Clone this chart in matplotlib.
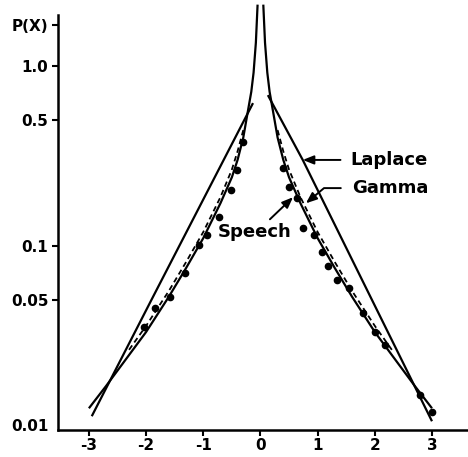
import numpy as np
import matplotlib
matplotlib.use('Agg')
from matplotlib import pyplot as plt

# values (x in units of sigma, p on a log axis)
laplace_left_x = [-2.95, -1.89, -0.13]
laplace_left_p = [0.0112, 0.051, 0.622]
laplace_right_x = [0.13, 0.74, 3.0]
laplace_right_p = [0.689, 0.30, 0.0105]

# gamma density, same on both sides of zero
gamma_x = [0.05, 0.08, 0.12, 0.16, 0.22, 0.3, 0.4, 0.5, 0.7, 1.0, 1.3, 1.6, 2.0, 2.4, 2.7, 3.0]
gamma_p = [2.2, 1.35, 0.92, 0.72, 0.56, 0.40, 0.30, 0.24, 0.172, 0.11, 0.075, 0.052, 0.033, 0.0222, 0.0165, 0.0124]

# measured speech curve (dashed, runs just inside the gamma curve)
speech_x = [0.3, 0.4, 0.5, 0.7, 1.0, 1.3, 1.6, 2.0, 2.3]
speech_p = [0.44, 0.335, 0.265, 0.186, 0.119, 0.081, 0.056, 0.0357, 0.0262]

# measured speech points
dots_left_x = [-2.04, -1.84, -1.58, -1.32, -1.08, -0.94, -0.73, -0.52, -0.41, -0.31]
dots_left_p = [0.0352, 0.0449, 0.0516, 0.0703, 0.1007, 0.1144, 0.144, 0.204, 0.263, 0.377]
dots_right_x = [0.39, 0.50, 0.64, 0.74, 0.94, 1.08, 1.19, 1.34, 1.55, 1.79, 2.00, 2.18, 2.79, 3.00]
dots_right_p = [0.270, 0.212, 0.184, 0.125, 0.1144, 0.092, 0.0769, 0.0643, 0.058, 0.042, 0.033, 0.0279, 0.0147, 0.0118]

xticks = [-3, -2, -1, 0, 1, 2, 3]
xlabels = ['-3', '-2', '-1', '0', '1', '2', '3']
yticks = [0.01, 0.05, 0.1, 0.5, 1.0, 1.69]
ylabels = ['0.01', '0.05', '0.1', '0.5', '1.0', 'P(X)']

plt.rcParams['font.family'] = ['DejaVu Sans']
plt.rcParams['font.weight'] = 'bold'
plt.rcParams['axes.unicode_minus'] = False

fig = plt.figure(figsize=(4.68, 4.57), dpi=100)
ax = fig.add_axes([0.124, 0.059, 0.876, 0.908])

lw = 1.6
k = dict(color='black', lw=lw, solid_capstyle='butt')
ax.plot(laplace_left_x, laplace_left_p, **k)
ax.plot(laplace_right_x, laplace_right_p, **k)

gx = np.array(gamma_x)
ax.plot(-gx, gamma_p, clip_on=False, **k)
ax.plot(gx, gamma_p, clip_on=False, **k)

sx = np.array(speech_x)
ax.plot(-sx, speech_p, color='black', lw=1.3, ls=(0, (3, 2)))
ax.plot(sx, speech_p, color='black', lw=1.3, ls=(0, (3, 2)))

ax.plot(dots_left_x, dots_left_p, 'o', color='black', ms=4.5)
ax.plot(dots_right_x, dots_right_p, 'o', color='black', ms=4.5)

ax.set_yscale('log')
ax.set_xlim(-3.54, 3.63)
ax.set_ylim(0.00938, 1.924)
ax.set_xticks(xticks)
ax.set_xticklabels(xlabels)
ax.set_yticks(yticks)
ax.set_yticklabels(ylabels)
ax.minorticks_off()
ax.yaxis.get_major_ticks()[0].tick1line.set_visible(False)

for s in ['top', 'right']:
    ax.spines[s].set_visible(False)
for s in ['left', 'bottom']:
    ax.spines[s].set_linewidth(1.8)
ax.tick_params(axis='both', labelsize=11, width=1.5, length=4, direction='out')
ax.tick_params(axis='x', pad=1.5)
ax.tick_params(axis='y', pad=3)

arrow = dict(arrowstyle='-|>,head_length=0.5,head_width=0.2', color='black', lw=1.4)
ax.annotate('Laplace', xy=(0.74, 0.30), xytext=(1.57, 0.30), fontsize=13,
            ha='left', va='center', arrowprops=dict(arrow, shrinkA=5, shrinkB=0))
ax.annotate('Gamma', xy=(0.795, 0.172), xytext=(1.60, 0.209), fontsize=13,
            ha='left', va='center',
            arrowprops=dict(arrow, shrinkA=6, shrinkB=0,
                            connectionstyle='angle,angleA=0,angleB=40,rad=0'))
ax.annotate('Speech', xy=(0.57, 0.186), xytext=(-0.096, 0.119), fontsize=13,
            ha='center', va='center',
            arrowprops=dict(arrow, shrinkA=1, shrinkB=0, relpos=(0.65, 1.0)))

plt.savefig('out.png', dpi=100)
